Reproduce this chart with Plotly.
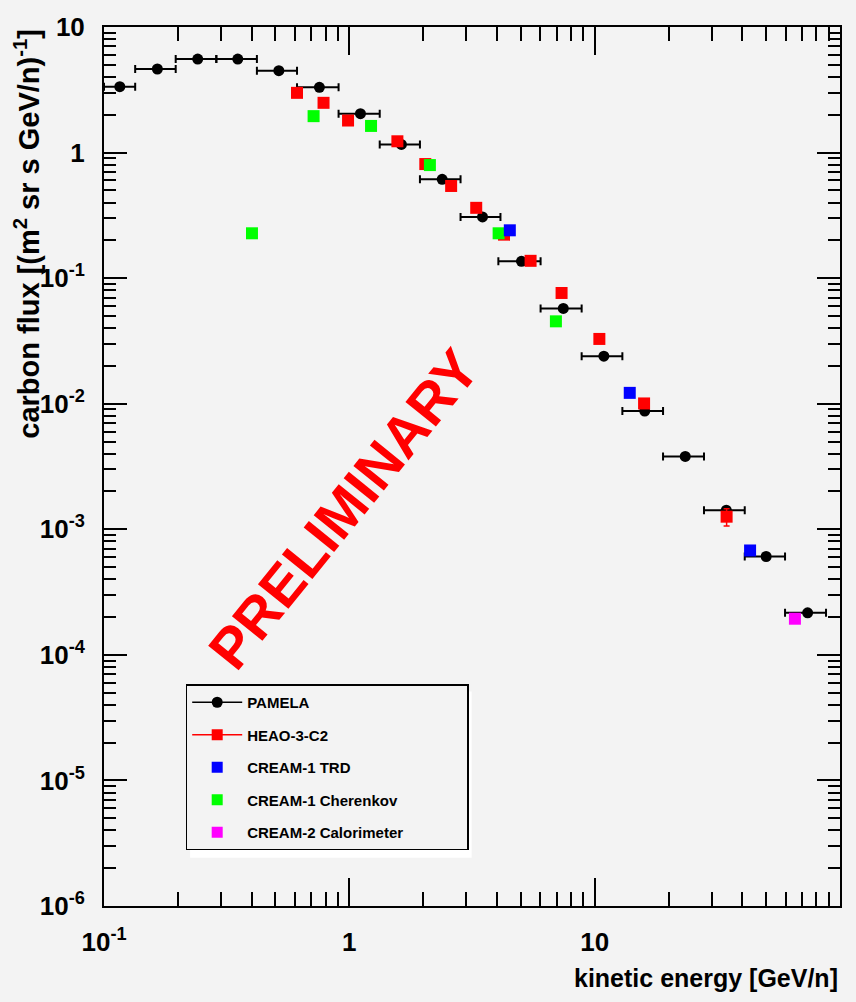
import plotly.graph_objects as go

# ---- PAMELA carbon flux (bin centres, bin edges, flux) ----
pamela_e = [0.116, 0.165, 0.241, 0.351, 0.516, 0.755, 1.11, 1.63, 2.39, 3.49,
            5.03, 7.45, 10.9, 16.0, 23.4, 34.4, 50.0, 73.8]
pamela_e_lo = [0.100, 0.134, 0.196, 0.287, 0.420, 0.612, 0.904, 1.33, 1.94, 2.84,
               4.05, 6.02, 8.85, 12.97, 19.0, 27.9, 40.9, 59.7]
pamela_e_hi = [0.134, 0.196, 0.287, 0.420, 0.612, 0.904, 1.33, 1.94, 2.84, 4.13,
               6.02, 8.85, 12.97, 19.0, 27.9, 40.9, 59.7, 87.7]
pamela_flux = [3.35, 4.63, 5.55, 5.55, 4.49, 3.31, 2.04, 1.16, 0.612, 0.307,
               0.136, 0.0574, 0.0239, 0.00873, 0.0038, 0.00142, 6.07e-4, 2.16e-4]

# ---- HEAO-3-C2 ----
heao_e = [0.612, 0.785, 0.988, 1.57, 2.04, 2.60, 3.29, 4.27, 5.48, 7.33, 10.45, 15.9, 34.5]
heao_flux = [2.99, 2.49, 1.80, 1.23, 0.81, 0.542, 0.363, 0.222, 0.1374, 0.0762,
             0.0328, 0.01005, 0.00126]
heao_err = [0, 0, 0, 0, 0, 0, 0, 0, 0, 0, 0, 0, 0.0002]

# ---- CREAM-1 TRD ----
trd_e = [4.51, 13.9, 43.0]
trd_flux = [0.2404, 0.0122, 6.78e-4]

# ---- CREAM-1 Cherenkov ----
cher_e = [0.401, 0.715, 1.226, 2.13, 4.06, 6.95]
cher_flux = [0.2276, 1.95, 1.63, 0.795, 0.2276, 0.0453]

# ---- CREAM-2 Calorimeter ----
calo_e = [65.5]
calo_flux = [1.94e-4]

# ---- axis ticks ----
x_tickvals = [0.1, 1, 10, 100]
x_ticktext = ["10<sup>-1</sup>", "1", "10", "10<sup>2</sup>"]
y_tickvals = [1e-6, 1e-5, 1e-4, 1e-3, 1e-2, 1e-1, 1, 10]
y_ticktext = ["10<sup>-6</sup>", "10<sup>-5</sup>", "10<sup>-4</sup>", "10<sup>-3</sup>",
              "10<sup>-2</sup>", "10<sup>-1</sup>", "1", "10"]

FONT = "Liberation Sans Narrow, Arial Narrow, Liberation Sans, Arial, sans-serif"
BG = "#f3f3f3"

err_plus = [h - e for h, e in zip(pamela_e_hi, pamela_e)]
err_minus = [e - l for e, l in zip(pamela_e, pamela_e_lo)]

fig = go.Figure()

fig.add_trace(go.Scatter(
    x=pamela_e, y=pamela_flux, mode="markers", showlegend=False,
    marker=dict(symbol="circle", size=11, color="black"),
    error_x=dict(type="data", symmetric=False, array=err_plus, arrayminus=err_minus,
                 color="black", thickness=2, width=4),
))
fig.add_trace(go.Scatter(
    x=heao_e, y=heao_flux, mode="markers", showlegend=False,
    marker=dict(symbol="square", size=12, color="#ff0000"),
    error_y=dict(type="data", array=heao_err, color="#ff0000", thickness=1.5, width=3),
))
fig.add_trace(go.Scatter(
    x=cher_e, y=cher_flux, mode="markers", showlegend=False,
    marker=dict(symbol="square", size=12, color="#00ff00"),
))
fig.add_trace(go.Scatter(
    x=trd_e, y=trd_flux, mode="markers", showlegend=False,
    marker=dict(symbol="square", size=12, color="#0000ff"),
))
fig.add_trace(go.Scatter(
    x=calo_e, y=calo_flux, mode="markers", showlegend=False,
    marker=dict(symbol="square", size=12, color="#ff00ff"),
))

# legend entries (the last label is padded so the box keeps its ROOT-style width)
legend_items = [
    ("PAMELA", "lines+markers", "black", "circle"),
    ("HEAO-3-C2", "lines+markers", "#ff0000", "square"),
    ("CREAM-1 TRD", "markers", "#0000ff", "square"),
    ("CREAM-1 Cherenkov", "markers", "#00ff00", "square"),
    ("CREAM-2 Calorimeter", "markers", "#ff00ff", "square"),
]
for i, (name, mode, col, sym) in enumerate(legend_items):
    label = name + ("\u00a0" * 14 if i == len(legend_items) - 1 else "")
    fig.add_trace(go.Scatter(
        x=[None], y=[None], mode=mode, name=label, legendgroup=f"g{i}",
        line=dict(color=col, width=1.5),
        marker=dict(symbol=sym, size=11, color=col),
    ))

axis_common = dict(
    type="log", showgrid=False, zeroline=False,
    showline=True, linecolor="black", linewidth=2, mirror="ticks",
    ticks="inside", tickcolor="black", tickwidth=1.5,
    tickfont=dict(family=FONT, size=26, color="black", weight="bold"),
)

fig.update_xaxes(
    **axis_common, range=[-1, 2], tickvals=x_tickvals, ticktext=x_ticktext,
    ticklen=28, ticklabelstandoff=12,
    minor=dict(ticks="inside", ticklen=14, tickcolor="black", tickwidth=1.5,
               dtick="D1", showgrid=False),
)
fig.update_yaxes(
    **axis_common, range=[-6, 1], tickvals=y_tickvals, ticktext=y_ticktext,
    ticklen=23, ticklabelstandoff=12,
    minor=dict(ticks="inside", ticklen=12, tickcolor="black", tickwidth=1.5,
               dtick="D1", showgrid=False),
)

fig.add_annotation(
    text="PRELIMINARY", xref="paper", yref="paper", x=0.325, y=0.452,
    xanchor="center", yanchor="middle",
    showarrow=False, textangle=-51,
    font=dict(family="Liberation Sans, Arial, sans-serif", size=57, color="#ff0000",
              weight="bold"),
)
fig.add_annotation(
    text="carbon flux [(m<sup>2</sup> sr s GeV/n)<sup>-1</sup>]", xref="paper", yref="paper",
    x=-0.105, y=1.0, xanchor="center", yanchor="top", showarrow=False, textangle=-90,
    font=dict(family=FONT, size=29, color="black", weight="bold"),
)
fig.add_annotation(
    text="kinetic energy [GeV/n]", xref="paper", yref="paper",
    x=1.0, y=-0.082, xanchor="right", yanchor="middle", showarrow=False,
    font=dict(family=FONT, size=25, color="black", weight="bold"),
)

# white drop shadow behind the legend box
fig.add_shape(type="rect", xref="paper", yref="paper",
              x0=0.117, x1=0.4995, y0=0.055, y1=0.244,
              fillcolor="white", line=dict(width=0), layer="below")

fig.update_layout(
    width=856, height=1002,
    margin=dict(l=104, r=16, t=21, b=96),
    paper_bgcolor=BG, plot_bgcolor=BG,
    showlegend=True,
    legend=dict(
        x=0.111, y=0.252, xanchor="left", yanchor="top",
        bgcolor=BG, bordercolor="black", borderwidth=1.5,
        font=dict(family=FONT, size=15, color="black", weight="bold"),
        itemwidth=50, tracegroupgap=10, traceorder="grouped",
    ),
)

fig.write_html("out.html")
